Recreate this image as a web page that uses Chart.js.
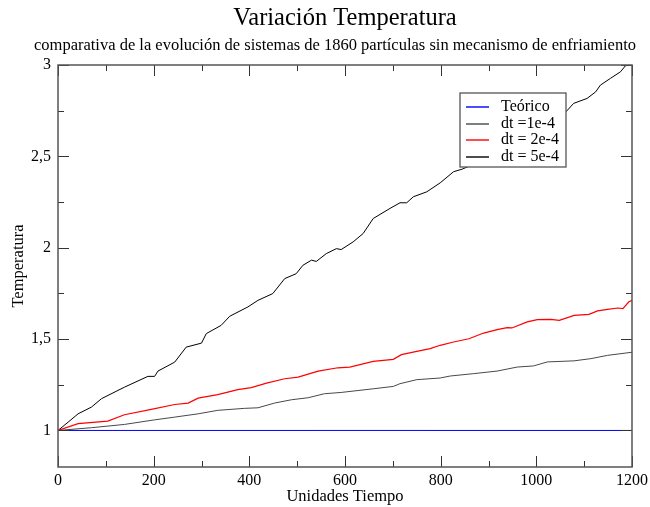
<!DOCTYPE html>
<html>
<head>
<meta charset="utf-8">
<script src="https://cdn.jsdelivr.net/npm/chart.js@4/dist/chart.umd.min.js"></script>
<style>
html,body{margin:0;padding:0;background:#fff;}
canvas{display:block;}
</style>
</head>
<body>
<canvas id="c" width="650" height="507"></canvas>
<script>
// ---- data ----
const seriesLabels = ["Teórico", "dt =1e-4", "dt = 2e-4", "dt = 5e-4"];
const seriesColors = ["#0000ff", "#484848", "#ff0000", "#000000"];

const tTeo = [0, 1200];
const vTeo = [1, 1];

const t1 = [0,70,139,202,244,293,334,390,418,453,488,523,557,592,659,701,715,750,799,820,869,918,960,994,1023,1079,1114,1149,1200];
const v1 = [1.0,1.015,1.033,1.058,1.073,1.091,1.110,1.121,1.124,1.150,1.168,1.179,1.201,1.208,1.228,1.241,1.256,1.278,1.287,1.298,1.311,1.325,1.347,1.353,1.375,1.381,1.393,1.411,1.428];

const t2 = [0,42,104,139,195,244,272,293,334,376,404,436,474,502,544,585,610,659,701,718,750,778,799,827,859,890,918,939,949,981,1002,1030,1048,1079,1110,1128,1149,1170,1181,1193,1200];
const v2 = [1.0,1.037,1.051,1.086,1.115,1.142,1.150,1.177,1.196,1.223,1.234,1.259,1.283,1.292,1.325,1.343,1.347,1.378,1.389,1.415,1.433,1.448,1.466,1.484,1.502,1.533,1.552,1.563,1.561,1.594,1.606,1.608,1.603,1.630,1.635,1.654,1.663,1.670,1.667,1.703,1.712];

const t5 = [0,21,42,70,91,139,188,202,209,244,268,300,310,341,359,397,418,449,474,498,512,530,540,561,582,592,617,638,659,694,715,729,743,771,799,827,845,880,920,960,1000,1040,1062,1078,1106,1124,1134,1155,1176,1186,1200];
const v5 = [1.0,1.045,1.091,1.128,1.174,1.237,1.296,1.296,1.325,1.374,1.456,1.478,1.530,1.575,1.625,1.676,1.712,1.749,1.831,1.858,1.904,1.932,1.925,1.968,1.995,1.99,2.032,2.078,2.160,2.215,2.246,2.246,2.279,2.306,2.355,2.416,2.43,2.47,2.53,2.60,2.66,2.72,2.744,2.790,2.817,2.853,2.890,2.927,2.963,2.995,3.02];

const xTicks = [0,200,400,600,800,1000,1200];
const xMinor = [100,300,500,700,900,1100];
const yTicks = [1,1.5,2,2.5,3];
const yMinor = [1.25,1.75,2.25,2.75];

const titleText = "Variación Temperatura";
const subtitleText = "comparativa de la evolución de sistemas de 1860 partículas sin mecanismo de enfriamiento";
const xTitle = "Unidades Tiempo";
const yTitle = "Temperatura";

// ---- build ----
const pts = (t, v) => t.map((x, i) => ({x: x, y: v[i]}));
const serif = "'Liberation Serif', 'DejaVu Serif', serif";

const series = [pts(tTeo, vTeo), pts(t1, v1), pts(t2, v2), pts(t5, v5)];
const datasets = series.map((d, i) => ({
  label: seriesLabels[i],
  data: d,
  borderColor: seriesColors[i],
  borderWidth: i === 2 ? 1.2 : 1,
  pointRadius: 0,
  tension: 0,
  fill: false
}));

const framePlugin = {
  id: 'frameTicksLegend',
  afterDatasetsDraw(chart) {
    const ctx = chart.ctx;
    const a = chart.chartArea;
    const xs = chart.scales.x, ys = chart.scales.y;
    ctx.save();
    ctx.strokeStyle = '#333';
    ctx.lineWidth = 1;
    const tick = (vals, len) => {
      vals.forEach(v => {
        const px = Math.round(xs.getPixelForValue(v)) + 0.5;
        ctx.beginPath();
        ctx.moveTo(px, a.bottom); ctx.lineTo(px, a.bottom - len);
        ctx.moveTo(px, a.top); ctx.lineTo(px, a.top + len);
        ctx.stroke();
      });
    };
    const ytick = (vals, len) => {
      vals.forEach(v => {
        const py = Math.round(ys.getPixelForValue(v)) + 0.5;
        ctx.beginPath();
        ctx.moveTo(a.left, py); ctx.lineTo(a.left + len, py);
        ctx.moveTo(a.right, py); ctx.lineTo(a.right - len, py);
        ctx.stroke();
      });
    };
    tick(xTicks, 11); tick(xMinor, 6);
    ytick(yTicks, 11); ytick(yMinor, 6);
    ctx.lineWidth = 1.5;
    ctx.strokeStyle = '#555';
    ctx.strokeRect(a.left, a.top, a.right - a.left, a.bottom - a.top);

    // legend
    const lx = a.right - 172, ly = a.top + 28, lw = 106, lh = 74;
    ctx.fillStyle = '#fff';
    ctx.fillRect(lx, ly, lw, lh);
    ctx.lineWidth = 1.3;
    ctx.strokeStyle = '#555';
    ctx.strokeRect(lx, ly, lw, lh);
    ctx.font = "16px " + serif;
    ctx.textBaseline = 'middle';
    ctx.textAlign = 'left';
    seriesLabels.forEach((label, i) => {
      const y = Math.round(ly + 14 + i * 16.5);
      ctx.beginPath();
      ctx.strokeStyle = seriesColors[i];
      ctx.lineWidth = 1.4;
      ctx.moveTo(lx + 6, y);
      ctx.lineTo(lx + 29, y);
      ctx.stroke();
      ctx.fillStyle = '#000';
      ctx.fillText(label, lx + 41, y);
    });
    ctx.restore();
  }
};

new Chart(document.getElementById('c'), {
  type: 'line',
  data: { datasets: datasets },
  options: {
    responsive: false,
    animation: false,
    layout: { padding: { left: 20, right: 0, top: 0, bottom: 0 } },
    plugins: {
      legend: { display: false },
      tooltip: { enabled: false },
      title: {
        display: true, text: titleText, color: '#000', fullSize: false,
        font: { family: serif, size: 24.5, weight: 'normal' },
        padding: { top: 3.8, bottom: 3 }
      },
      subtitle: {
        display: true, text: subtitleText, color: '#000', fullSize: true,
        font: { family: serif, size: 16.5, weight: 'normal' },
        padding: { top: 0, bottom: 9 }
      }
    },
    scales: {
      x: {
        type: 'linear', min: 0, max: 1200,
        grid: { display: false, drawTicks: false },
        border: { display: false },
        afterBuildTicks: s => { s.ticks = xTicks.map(v => ({value: v})); },
        afterFit: s => { s.height = 40; s.paddingLeft = 0; s.paddingRight = 0; },
        ticks: { color: '#000', padding: 4, maxRotation: 0, font: { family: serif, size: 16 },
          callback: v => String(v) },
        title: { display: true, text: xTitle, color: '#000', padding: { top: 0, bottom: 0 }, font: { family: serif, size: 16.5 } }
      },
      y: {
        type: 'linear', min: 0.8, max: 3,
        grid: { display: false, drawTicks: false },
        border: { display: false },
        afterBuildTicks: s => { s.ticks = yTicks.map(v => ({value: v})); },
        afterFit: s => { s.width = 38; s.paddingTop = 0; s.paddingBottom = 0; },
        ticks: {
          color: '#000', padding: 7, font: { family: serif, size: 16 },
          callback: v => String(v).replace('.', ',')
        },
        title: { display: true, text: yTitle, color: '#000', padding: { top: -11, bottom: 0 }, font: { family: serif, size: 16.5 } }
      },
      yR: {
        type: 'linear', position: 'right', min: 0.8, max: 3,
        grid: { display: false, drawTicks: false },
        border: { display: false },
        ticks: { display: false },
        afterFit: s => { s.width = 18; s.paddingTop = 0; s.paddingBottom = 0; }
      }
    }
  },
  plugins: [framePlugin]
});
</script>
</body>
</html>
